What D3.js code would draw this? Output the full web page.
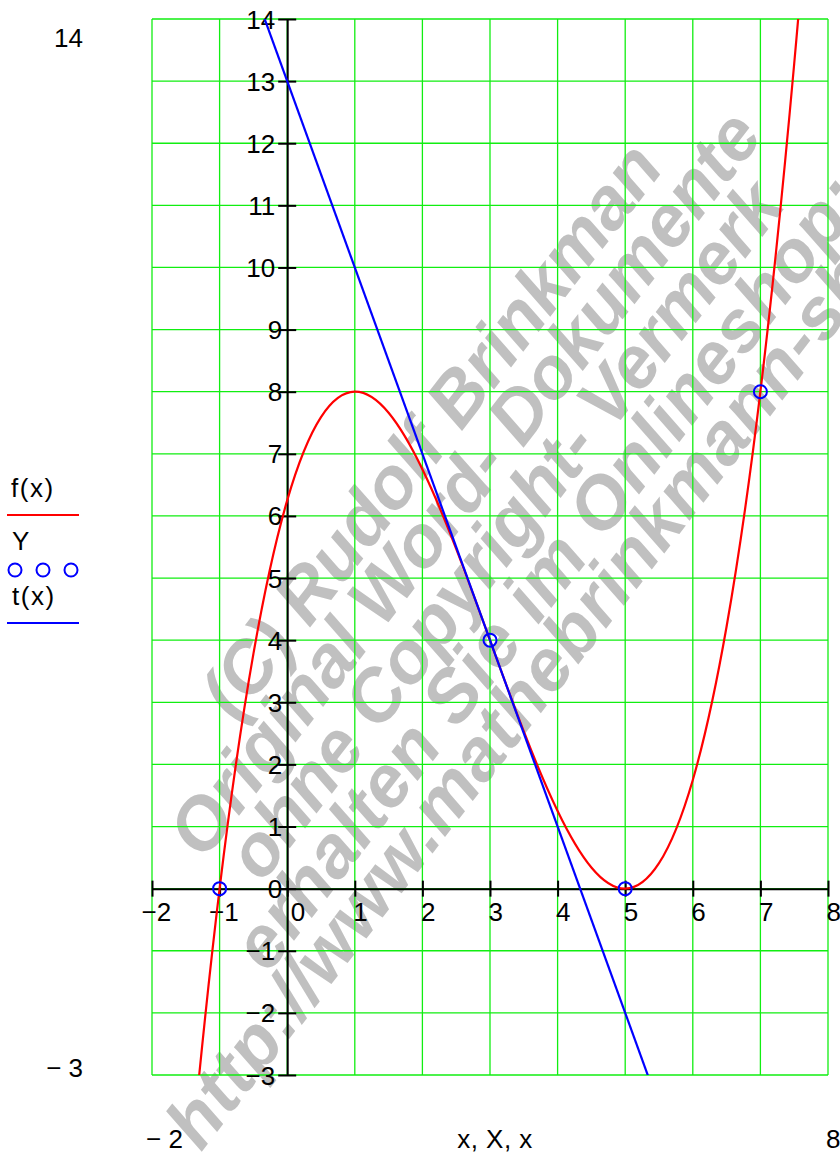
<!DOCTYPE html>
<html><head><meta charset="utf-8">
<script src="https://cdn.jsdelivr.net/npm/d3@7"></script>
<style>body{margin:0;background:#fff} svg{display:block}</style>
</head><body>
<svg id="chart" width="840" height="1153"></svg>
<script>
// ---- data ----
const xTicks = [-2, -1, 0, 1, 2, 3, 4, 5, 6, 7, 8];
const xTickLabels = ["\u22122", "\u22121", "0", "1", "2", "3", "4", "5", "6", "7", "8"];
const yTicks = [-3, -2, -1, 0, 1, 2, 3, 4, 5, 6, 7, 8, 9, 10, 11, 12, 13, 14];
const yTickLabels = ["\u22123", "\u22122", "\u22121", "0", "1", "2", "3", "4", "5", "6", "7", "8", "9", "10", "11", "12", "13", "14"];
const fX = [-2.5, -2, -1.5, -1, -0.5, 0, 0.5, 1, 1.5, 2, 2.5, 3, 3.5, 4, 4.5, 5, 5.5, 6, 6.5, 7, 7.5, 8, 8.5];
const fY = [-21.09, -12.25, -5.28, 0, 3.78, 6.25, 7.59, 8, 7.66, 6.75, 5.47, 4, 2.53, 1.25, 0.34, 0, 0.41, 1.75, 4.22, 8, 13.28, 20.25, 29.09];
// t(x) tangent line end points
const tX = [-0.5, 5.5];
const tY = [14.5, -3.5];
// Y data points
const pX = [-1, 3, 5, 7];
const pY = [0, 4, 0, 8];
const legendNames = ["f(x)", "Y", "t(x)"];
const watermarkLines = ["(C) Rudolf Brinkman", "Original Word- Dokumente", "ohne Copyright- Vermerk", "erhalten Sie im Onlineshop:", "http://www.mathebrinkmann-shop.de"];

// ---- drawing ----
const FONT = "Arial, 'Liberation Sans', sans-serif";
const FS = 26;
const svg = d3.select("#chart");
const x = d3.scaleLinear().domain([-2, 8]).range([152, 828]);
const y = d3.scaleLinear().domain([-3, 14]).range([1075, 19]);

// watermark (behind everything)
const wmPos = [[-428, 629, 702], [-557, 688, 917], [-539, 748, 857], [-607, 808, 979], [-789, 864, 1303]];
const wm = svg.append("g").attr("transform", "rotate(-52.3)");
wm.selectAll("text").data(watermarkLines).join("text")
  .attr("x", (d, i) => wmPos[i][0]).attr("y", (d, i) => wmPos[i][1])
  .attr("textLength", (d, i) => wmPos[i][2]).attr("lengthAdjust", "spacing")
  .attr("font-family", FONT).attr("font-size", 73).attr("font-weight", "bold").attr("font-style", "italic")
  .attr("fill", "#c0c0c0").text(d => d);

// grid
const grid = svg.append("g").attr("stroke", "#11ee11").attr("stroke-width", 1.3);
grid.selectAll("line.v").data(xTicks).join("line").attr("class", "v")
  .attr("x1", d => x(d)).attr("x2", d => x(d)).attr("y1", y(14)).attr("y2", y(-3));
grid.selectAll("line.h").data(yTicks).join("line").attr("class", "h")
  .attr("y1", d => y(d)).attr("y2", d => y(d)).attr("x1", x(-2)).attr("x2", x(8));

// x axis
const xAxis = svg.append("g").attr("transform", `translate(0,${y(0)})`)
  .call(d3.axisBottom(x).tickValues(xTicks).tickSizeOuter(0).tickFormat((d, i) => xTickLabels[i]));
xAxis.select(".domain").attr("stroke", "#000").attr("stroke-width", 2);
xAxis.selectAll(".tick line").attr("y1", -8).attr("y2", 8).attr("stroke", "#000").attr("stroke-width", 2);
xAxis.selectAll(".tick text")
  .attr("font-family", FONT).attr("font-size", FS).attr("fill", "#000")
  .attr("text-anchor", "start").attr("dy", null).attr("y", 32)
  .attr("x", d => d < 0 ? -11 : (d === 0 ? 3 : -2));

// y axis
const yAxis = svg.append("g").attr("transform", `translate(${x(0)},0)`)
  .call(d3.axisLeft(y).tickValues(yTicks).tickSizeOuter(0).tickFormat((d, i) => yTickLabels[i]));
yAxis.select(".domain").attr("stroke", "#000").attr("stroke-width", 2);
yAxis.selectAll(".tick line").attr("x1", -9).attr("x2", 9).attr("stroke", "#000").attr("stroke-width", 2);
yAxis.selectAll(".tick text")
  .attr("font-family", FONT).attr("font-size", FS).attr("fill", "#000")
  .attr("text-anchor", "end").attr("dy", null).attr("y", 9)
  .attr("x", (d, i) => yTickLabels[i].length > 1 ? -12 : -5);

// clip
svg.append("clipPath").attr("id", "plotclip").append("rect")
  .attr("x", x(-2)).attr("y", y(14)).attr("width", x(8) - x(-2)).attr("height", y(-3) - y(14));

const plot = svg.append("g").attr("clip-path", "url(#plotclip)");
const fData = fX.map((v, i) => [v, fY[i]]);
const tData = tX.map((v, i) => [v, tY[i]]);
plot.append("path").datum(fData)
  .attr("d", d3.line().x(d => x(d[0])).y(d => y(d[1])).curve(d3.curveNatural))
  .attr("fill", "none").attr("stroke", "#ff0000").attr("stroke-width", 2.2);
plot.append("path").datum(tData)
  .attr("d", d3.line().x(d => x(d[0])).y(d => y(d[1])))
  .attr("fill", "none").attr("stroke", "#0000ff").attr("stroke-width", 2.2);
svg.append("g").selectAll("circle").data(pX).join("circle")
  .attr("cx", d => x(d)).attr("cy", (d, i) => y(pY[i])).attr("r", 6.5)
  .attr("fill", "none").attr("stroke", "#0000ff").attr("stroke-width", 2);

// outer range labels
const outer = svg.append("g").attr("font-family", FONT).attr("font-size", FS).attr("fill", "#000");
outer.append("text").attr("x", 83).attr("y", 47).attr("text-anchor", "end").text(yTicks[yTicks.length - 1]);
outer.append("text").attr("x", 83).attr("y", 1077).attr("text-anchor", "end").text("\u2212 " + Math.abs(yTicks[0]));
outer.append("text").attr("x", 146).attr("y", 1148).attr("text-anchor", "start").text("\u2212 " + Math.abs(xTicks[0]));
outer.append("text").attr("x", 826).attr("y", 1148).attr("text-anchor", "start").text(xTicks[xTicks.length - 1]);
outer.append("text").attr("x", 495).attr("y", 1148).attr("text-anchor", "middle").attr("letter-spacing", 0.5).text("x, X, x");

// legend
const lg = svg.append("g").attr("font-family", FONT).attr("font-size", FS).attr("fill", "#000");
lg.append("text").attr("x", 11).attr("y", 497).attr("letter-spacing", 1.5).text(legendNames[0]);
lg.append("line").attr("x1", 7).attr("x2", 79).attr("y1", 515).attr("y2", 515).attr("stroke", "#ff0000").attr("stroke-width", 2);
lg.append("text").attr("x", 12).attr("y", 550).text(legendNames[1]);
lg.selectAll("circle").data([15, 43, 71]).join("circle")
  .attr("cx", d => d).attr("cy", 570).attr("r", 6.5)
  .attr("fill", "none").attr("stroke", "#0000ff").attr("stroke-width", 2);
lg.append("text").attr("x", 12).attr("y", 605).attr("letter-spacing", 1.5).text(legendNames[2]);
lg.append("line").attr("x1", 7).attr("x2", 79).attr("y1", 623).attr("y2", 623).attr("stroke", "#0000ff").attr("stroke-width", 2);
</script>
</body></html>
